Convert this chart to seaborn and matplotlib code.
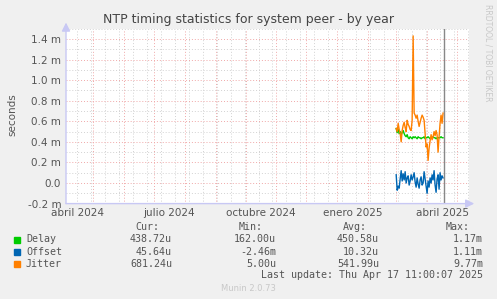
import numpy as np
import pandas as pd
import matplotlib
matplotlib.use("Agg")
import matplotlib.pyplot as plt
from matplotlib.patches import Rectangle
import seaborn as sns

# =============================
# DATA (values in milliseconds)
# =============================
start_day = "2025-03-01"

delay = [0.53, 0.49, 0.52, 0.48, 0.50, 0.47, 0.49, 0.51, 0.48, 0.46,
         0.45, 0.47, 0.44, 0.43, 0.45, 0.44, 0.43, 0.45, 0.44, 0.45,
         0.44, 0.43, 0.45, 0.44, 0.44, 0.43, 0.44, 0.44, 0.45, 0.43,
         0.44, 0.44, 0.45, 0.44, 0.43, 0.44, 0.44, 0.45, 0.44, 0.44,
         0.43, 0.44, 0.44, 0.44, 0.44, 0.45, 0.44, 0.44]

offset = [0.08, -0.07, -0.03, -0.05, 0.04, 0.12, 0.02, 0.09, 0.03, 0.11,
          0.00, 0.05, 0.07, -0.02, 0.02, 0.08, 0.03, 0.06, 0.10, 0.01,
          -0.04, 0.05, -0.01, -0.05, 0.03, 0.06, -0.02, 0.00, 0.11, 0.04,
          -0.03, -0.10, 0.02, -0.04, 0.05, 0.00, 0.08, 0.03, 0.12, -0.02,
          -0.09, 0.04, 0.08, -0.06, 0.10, 0.03, 0.07, 0.05]

jitter = [0.53, 0.50, 0.58, 0.52, 0.48, 0.40, 0.51, 0.56, 0.59, 0.54,
          0.50, 0.61, 0.57, 0.55, 0.52, 0.51, 0.61, 1.43, 0.68, 0.66,
          0.63, 0.66, 0.60, 0.55, 0.59, 0.63, 0.66, 0.64, 0.61, 0.48,
          0.35, 0.38, 0.22, 0.34, 0.41, 0.47, 0.42, 0.45, 0.50, 0.46,
          0.51, 0.47, 0.30, 0.45, 0.58, 0.66, 0.58, 0.68]

series_names = ["Delay", "Offset", "Jitter"]
series_colors = ["#00cc00", "#0066b3", "#ff8000"]

cur_vals = ["438.72u", "45.64u", "681.24u"]
min_vals = ["162.00u", "-2.46m", "5.00u"]
avg_vals = ["450.58u", "10.32u", "541.99u"]
max_vals = ["1.17m", "1.11m", "9.77m"]

month_labels = ["abril 2024", "julio 2024", "octubre 2024", "enero 2025", "abril 2025"]
month_label_dates = ["2024-04-16", "2024-07-16", "2024-10-16", "2025-01-16", "2025-04-16"]

x_start, x_end = "2024-04-04", "2025-05-13"
now_time = "2025-04-17 11:00:07"
y_ticks = [-0.2, 0.0, 0.2, 0.4, 0.6, 0.8, 1.0, 1.2, 1.4]

# =============================
# BUILD FRAME
# =============================
days = pd.date_range(start_day, periods=len(delay), freq="D")
df = pd.concat([
    pd.DataFrame({"date": days, "value": delay, "series": "Delay"}),
    pd.DataFrame({"date": days, "value": offset, "series": "Offset"}),
    pd.DataFrame({"date": days, "value": jitter, "series": "Jitter"}),
])

# =============================
# FIGURE
# =============================
W, H = 497, 299
BG = "#f0f0f0"
TXT = "#555555"
fig = plt.figure(figsize=(W / 100, H / 100), dpi=100, facecolor=BG)


def px(x, y):
    return x / W, 1 - y / H


ax = fig.add_axes([66 / W, 1 - 203.6 / H, 403 / W, 174.9 / H])
ax.set_facecolor("white")

x0, x1 = pd.Timestamp(x_start), pd.Timestamp(x_end)

# grid lines
for d in pd.date_range("2024-04-15", x_end, freq="14D"):
    ax.axvline(d, color="#d2d2d2", lw=0.7, ls=(0, (1, 2)), zorder=0)
for d in pd.date_range("2024-05-01", x_end, freq="MS"):
    ax.axvline(d, color="#f0a8a8", lw=0.7, ls=(0, (1, 2)), zorder=0)
for v in np.arange(-0.1, 1.55, 0.2):
    ax.axhline(v, color="#d2d2d2", lw=0.7, ls=(0, (1, 2)), zorder=0)
for v in y_ticks:
    ax.axhline(v, color="#f0a8a8", lw=0.7, ls=(0, (1, 2)), zorder=0)

sns.lineplot(data=df, x="date", y="value", hue="series",
             palette=dict(zip(series_names, series_colors)),
             hue_order=series_names,
             linewidth=1.0, ax=ax, legend=False, zorder=3)

ax.axvline(pd.Timestamp(now_time), color="#888888", lw=1.0, zorder=4)

ax.set_xlim(x0, x1)
ax.set_ylim(-0.2, 1.5)

ax.set_yticks(y_ticks)
ax.set_yticklabels(["0.0" if abs(v) < 1e-9 else f"{v:.1f} m" for v in y_ticks])
ax.set_xticks([pd.Timestamp(d) for d in month_label_dates])
ax.set_xticklabels(month_labels)
ax.tick_params(length=0, labelsize=7.5, labelcolor=TXT, pad=3.5)
ax.set_xlabel("")
ax.set_ylabel("")

for s in ax.spines.values():
    s.set_visible(False)

# axis arrows
axis_col = "#c8c8f4"
ax.annotate("", xy=(1.013, 0), xytext=(0, 0), xycoords="axes fraction",
            arrowprops=dict(arrowstyle="-|>,head_length=0.5,head_width=0.25",
                            color=axis_col, lw=1.0, shrinkA=0, shrinkB=0),
            annotation_clip=False, zorder=5)
ax.annotate("", xy=(0, 1.035), xytext=(0, 0), xycoords="axes fraction",
            arrowprops=dict(arrowstyle="-|>,head_length=0.5,head_width=0.25",
                            color=axis_col, lw=1.0, shrinkA=0, shrinkB=0),
            annotation_clip=False, zorder=5)

# =============================
# TEXTS
# =============================
fig.text(*px(248.5, 19.5), "NTP timing statistics for system peer - by year",
         ha="center", va="center", fontsize=9, color="#444444")
fig.text(*px(12, 115), "seconds", rotation=90, ha="center", va="center",
         fontsize=7.5, color=TXT)
fig.text(*px(488, 53), "RRDTOOL / TOBI OETIKER", rotation=270, ha="center",
         va="center", fontsize=5.5, color="#c8c8c8")

mono = dict(family="DejaVu Sans Mono", fontsize=7.2, color=TXT, va="center")
for x, h in zip([159, 263, 367, 470], ["Cur:", "Min:", "Avg:", "Max:"]):
    fig.text(*px(x, 227), h, ha="right", **mono)

for i, name in enumerate(series_names):
    y = 239.5 + i * 12.3
    fig.patches.append(Rectangle(px(14, y + 3), 6 / W, 6 / H,
                                 transform=fig.transFigure,
                                 color=series_colors[i], figure=fig))
    fig.text(*px(26, y), name, ha="left", **mono)
    for x, vals in zip([172, 276, 379, 483], [cur_vals, min_vals, avg_vals, max_vals]):
        fig.text(*px(x, y), vals[i], ha="right", **mono)

fig.text(*px(483, 275.5), "Last update: Thu Apr 17 11:00:07 2025", ha="right", **mono)
fig.text(*px(248, 288.5), "Munin 2.0.73", ha="center", va="center",
         fontsize=6, color="#c8c8c8")

fig.savefig("out.png", dpi=100, facecolor=BG)
